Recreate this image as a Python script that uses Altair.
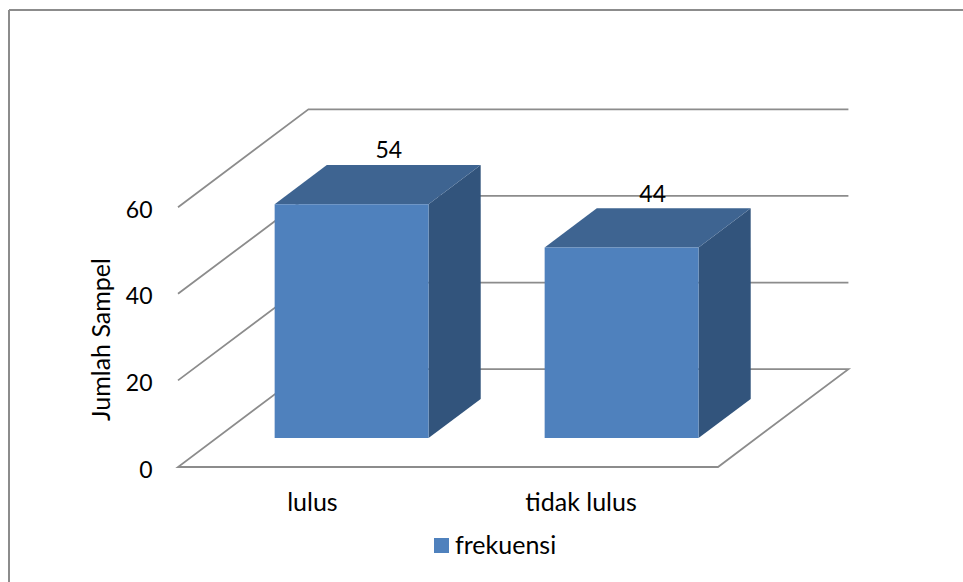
import altair as alt
import pandas as pd

# Values shown on the chart
categories = ["lulus", "tidak lulus"]
values = [54, 44]
series_name = "frekuensi"
y_ticks = [0, 20, 40, 60]
category_label_x = [0.496, 1.491]
value_label_shift = [0.138, 0.115]

# Oblique projection of the floor, in axis units
DEPTH_X = 0.483
DEPTH_Y = 22.6
BAR_START = 0.296
BAR_DEPTH = 0.4
BAR_WIDTH = 0.57
LABEL_LIFT = 12.2

X_DOMAIN = [0, 670 / 270]
Y_DOMAIN = [0, 359 / 4.33]
x_scale = alt.Scale(domain=X_DOMAIN, nice=False, zero=False)
y_scale = alt.Scale(domain=Y_DOMAIN, nice=False, zero=False)

FONT = "Lato"
TEXT_SIZE = 25
DIGIT_SIZE = 23
GRID = "#8c8c8c"
FRONT = "#4f81bd"
TOP = "#3e6491"
SIDE = "#32547c"

# Wall and floor lines
grid_rows = []
for v in y_ticks:
    if v == 0:
        path = [(DEPTH_X, DEPTH_Y), (0, 0), (2, 0), (2 + DEPTH_X, DEPTH_Y), (DEPTH_X, DEPTH_Y)]
    else:
        path = [(0, v), (DEPTH_X, v + DEPTH_Y), (2 + DEPTH_X, v + DEPTH_Y)]
    for i, (px, py) in enumerate(path):
        grid_rows.append({"tick": v, "i": i, "x": px, "y": py})

# Three faces of each bar
front_rows, top_rows, side_rows, label_rows = [], [], [], []
shift_x = DEPTH_X * BAR_START
shift_y = DEPTH_Y * BAR_START
dx = DEPTH_X * BAR_DEPTH
dy = DEPTH_Y * BAR_DEPTH
for idx, (cat, val) in enumerate(zip(categories, values)):
    left = idx + 0.5 - BAR_WIDTH / 2 + shift_x
    right = left + BAR_WIDTH
    front_rows.append({"series": series_name, "x": left, "x2": right, "y": shift_y, "y2": shift_y + val})
    top_rows += [
        {"cat": cat, "y": shift_y + val, "x": left, "x2": right},
        {"cat": cat, "y": shift_y + val + dy, "x": left + dx, "x2": right + dx},
    ]
    side_rows += [
        {"cat": cat, "x": right, "y": shift_y, "y2": shift_y + val},
        {"cat": cat, "x": right + dx, "y": shift_y + dy, "y2": shift_y + val + dy},
    ]
    label_rows.append({
        "x": (left + right) / 2 + value_label_shift[idx],
        "y": shift_y + val + LABEL_LIFT,
        "text": str(val),
    })

x_enc = alt.X("x:Q", scale=x_scale, axis=alt.Axis(
    values=category_label_x,
    labelExpr="datum.value < 1 ? '%s' : '%s'" % tuple(categories),
    title=None, domain=False, ticks=False, grid=False,
    labelFont=FONT, labelFontSize=TEXT_SIZE, labelColor="#000000",
    labelPadding=35, labelBaseline="middle", labelAlign="center", labelFlush=False,
))
y_enc = alt.Y("y:Q", scale=y_scale, axis=alt.Axis(
    values=y_ticks, format="d",
    title="Jumlah Sampel", titleFont=FONT, titleFontSize=TEXT_SIZE, titleFontWeight="normal",
    titleColor="#000000", titleX=-64, titleY=231, titleAlign="center",
    domain=False, ticks=False, grid=False,
    labelFont=FONT, labelFontSize=DIGIT_SIZE, labelColor="#000000", labelPadding=26,
    labelBaseline="middle", labelOffset=3,
))

grid = alt.Chart(pd.DataFrame(grid_rows)).mark_line(color=GRID, strokeWidth=1.8).encode(
    x=x_enc, y=y_enc, detail="tick:N", order="i:Q"
)
front = alt.Chart(pd.DataFrame(front_rows)).mark_rect().encode(
    x=alt.X("x:Q", scale=x_scale), x2="x2:Q",
    y=alt.Y("y:Q", scale=y_scale), y2="y2:Q",
    color=alt.Color("series:N", scale=alt.Scale(range=[FRONT]), legend=alt.Legend(
        title=None, orient="none", legendX=251, legendY=425,
        symbolType="square", symbolSize=225, symbolStrokeWidth=0,
        labelFont=FONT, labelFontSize=TEXT_SIZE, labelColor="#000000", labelOffset=1,
    )),
)
top = alt.Chart(pd.DataFrame(top_rows)).mark_area(orient="horizontal", color=TOP).encode(
    x=alt.X("x:Q", scale=x_scale), x2="x2:Q",
    y=alt.Y("y:Q", scale=y_scale), detail="cat:N",
)
side = alt.Chart(pd.DataFrame(side_rows)).mark_area(orient="vertical", color=SIDE).encode(
    x=alt.X("x:Q", scale=x_scale),
    y=alt.Y("y:Q", scale=y_scale), y2="y2:Q", detail="cat:N",
)
labels = alt.Chart(pd.DataFrame(label_rows)).mark_text(
    font=FONT, fontSize=DIGIT_SIZE, color="#000000", baseline="middle", align="center"
).encode(
    x=alt.X("x:Q", scale=x_scale), y=alt.Y("y:Q", scale=y_scale), text="text:N"
)

# Frame around the chart, open towards the page edge
frame_style = {"color": GRID, "strokeWidth": 2}
frame_top = alt.Chart(pd.DataFrame({"a": [0]})).mark_rule(**frame_style).encode(
    x=alt.value(-169), x2=alt.value(785), y=alt.value(-98)
)
frame_left = alt.Chart(pd.DataFrame({"a": [0]})).mark_rule(**frame_style).encode(
    x=alt.value(-169), y=alt.value(-98), y2=alt.value(474)
)

chart = alt.layer(frame_top, frame_left, grid, side, top, front, labels).resolve_scale(
    color="independent"
).properties(
    width=670, height=359,
    padding={"left": 178, "top": 108, "right": 115, "bottom": 115},
    autosize=alt.AutoSizeParams(type="none"),
    background="#ffffff",
).configure_view(stroke=None)

chart.save("out.html", embed_options={"renderer": "svg", "actions": False})
